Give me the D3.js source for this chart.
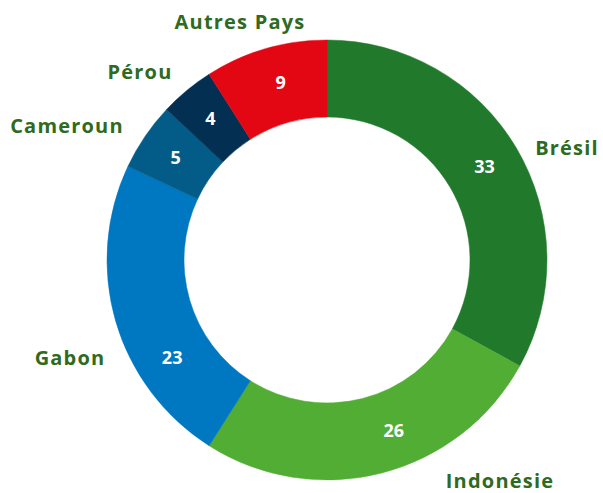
<!DOCTYPE html>
<html>
<head>
<meta charset="utf-8">
<script src="https://cdn.jsdelivr.net/npm/d3@7"></script>
<style>
  html, body { margin: 0; padding: 0; background: #fff; }
  svg { display: block; }
  text { font-family: "Open Sans", sans-serif; font-weight: 700; }
</style>
</head>
<body>
<svg id="chart"></svg>
<script>
// donut - share by country
const countries = ['Brésil', 'Indonésie', 'Gabon', 'Cameroun', 'Pérou', 'Autres Pays'];
const shares = [33, 26, 23, 5, 4, 9];
const colors = ['#217a2c', '#52ad34', '#0078c1', '#035c87', '#032f52', '#e30613'];

// hand placed name labels (center of text)
const labelPos = {
  'Brésil': [567, 148],
  'Indonésie': [500, 481],
  'Gabon': [70, 358],
  'Cameroun': [67, 126],
  'Pérou': [140, 72],
  'Autres Pays': [240, 22]
};
// value labels are not quite on the slice middle for some slices (degrees)
const valueShift = { 'Indonésie': -7, 'Gabon': -16, 'Autres Pays': 1.5 };

const width = 603, height = 493;
const cx = 327, cy = 260;
const outerR = 220, innerR = 143;
const valueR = 183;

const svg = d3.select('#chart').attr('width', width).attr('height', height);
const g = svg.append('g').attr('transform', `translate(${cx},${cy})`);

const data = countries.map((c, i) => ({ name: c, value: shares[i], color: colors[i] }));

const pie = d3.pie().value(d => d.value).sort(null);
const arc = d3.arc().innerRadius(innerR).outerRadius(outerR);

const arcs = pie(data);

g.selectAll('path')
  .data(arcs)
  .enter()
  .append('path')
  .attr('d', arc)
  .attr('fill', d => d.data.color)
  .attr('stroke', d => d.data.color)
  .attr('stroke-width', 0.5);

function valuePoint(d) {
  const a = (d.startAngle + d.endAngle) / 2 + (valueShift[d.data.name] || 0) * Math.PI / 180;
  return [valueR * Math.sin(a), -valueR * Math.cos(a)];
}

g.selectAll('text.val')
  .data(arcs)
  .enter()
  .append('text')
  .attr('class', 'val')
  .attr('transform', d => `translate(${valuePoint(d)})`)
  .attr('text-anchor', 'middle')
  .attr('dy', '0.36em')
  .attr('fill', '#fff')
  .attr('font-size', 18)
  .text(d => d.data.value);

svg.selectAll('text.name')
  .data(data)
  .enter()
  .append('text')
  .attr('class', 'name')
  .attr('x', d => labelPos[d.name][0])
  .attr('y', d => labelPos[d.name][1])
  .attr('text-anchor', 'middle')
  .attr('dy', '0.36em')
  .attr('fill', '#2f6a20')
  .attr('font-size', 20)
  .attr('letter-spacing', 1.2)
  .text(d => d.name);
</script>
</body>
</html>
